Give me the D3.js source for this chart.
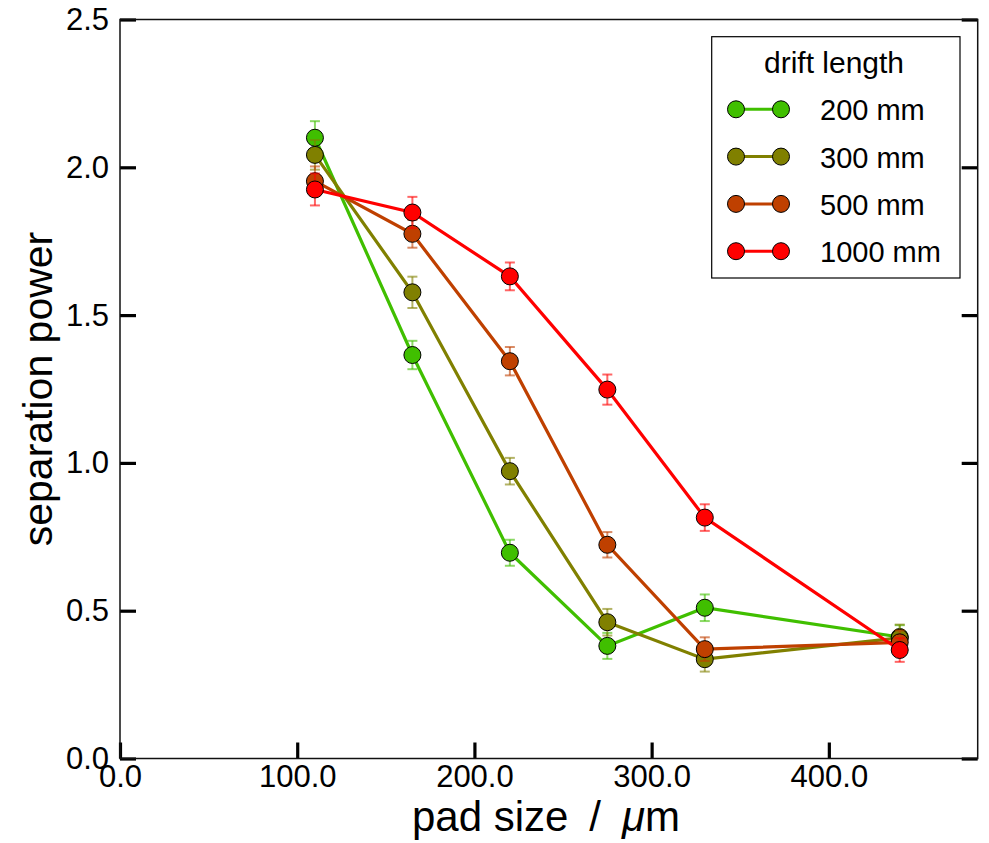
<!DOCTYPE html>
<html>
<head>
<meta charset="utf-8">
<script src="https://cdn.jsdelivr.net/npm/d3@7"></script>
<style>
  html, body { margin: 0; padding: 0; background: #fff; }
  svg { display: block; font-family: "Liberation Sans", "DejaVu Sans", sans-serif; }
</style>
</head>
<body>
<svg id="chart" width="989" height="843"></svg>
<script>
// ---- data ----
const padSize = [110, 165, 220, 275, 330, 440];
const driftLengths = ["200 mm", "300 mm", "500 mm", "1000 mm"];
const sep200  = [2.100, 1.365, 0.696, 0.381, 0.510, 0.411];
const sep300  = [2.042, 1.577, 0.972, 0.461, 0.336, 0.408];
const sep500  = [1.953, 1.775, 1.344, 0.723, 0.370, 0.393];
const sep1000 = [1.925, 1.847, 1.631, 1.248, 0.815, 0.367];
const err200  = [0.056, 0.048, 0.044, 0.044, 0.045, 0.040];
const err300  = [0.050, 0.053, 0.045, 0.045, 0.042, 0.045];
const err500  = [0.050, 0.047, 0.048, 0.043, 0.040, 0.040];
const err1000 = [0.054, 0.053, 0.047, 0.051, 0.045, 0.040];
const seriesColors = ["#40bf00", "#808000", "#bf4000", "#ff0000"];
const xTicks = [0, 100, 200, 300, 400];
const yTicks = [0, 0.5, 1.0, 1.5, 2.0, 2.5];
const xLabel = "pad size\u2002/\u2002";
const yLabel = "separation power";
const legendTitle = "drift length";

const seriesValues = [sep200, sep300, sep500, sep1000];
const seriesErrors = [err200, err300, err500, err1000];
const series = driftLengths.map((name, i) => ({
  name, color: seriesColors[i],
  points: padSize.map((px, j) => ({ x: px, y: seriesValues[i][j], e: seriesErrors[i][j] }))
}));

// ---- layout ----
const pL = 120, pR = 977.7, pT = 19.5, pB = 758.5;
const svg = d3.select("#chart");
const x = d3.scaleLinear().domain([0, 484]).range([pL, pR]);
const y = d3.scaleLinear().domain([0, 2.5]).range([pB, pT]);
const tickLen = 16;

// axes
const fmt = d3.format(".1f");
const gx = svg.append("g").attr("transform", `translate(0,${pB})`)
  .call(d3.axisBottom(x).tickValues(xTicks).tickFormat(fmt).tickSize(-tickLen).tickPadding(6));
const gy = svg.append("g").attr("transform", `translate(${pL},0)`)
  .call(d3.axisLeft(y).tickValues(yTicks).tickFormat(fmt).tickSize(-tickLen).tickPadding(11));
const gr = svg.append("g").attr("transform", `translate(${pR},0)`)
  .call(d3.axisRight(y).tickValues(yTicks).tickFormat("").tickSize(-tickLen));
[gx, gy, gr].forEach(g => {
  g.select(".domain").remove();
  g.selectAll(".tick line").attr("stroke", "#000").attr("stroke-width", 3.2);
  g.selectAll(".tick text").attr("fill", "#000").style("font-size", "31px")
    .style("font-family", '"Liberation Sans", sans-serif');
});

// frame
svg.append("rect").attr("x", pL).attr("y", pT)
  .attr("width", pR - pL).attr("height", pB - pT)
  .attr("fill", "none").attr("stroke", "#111").attr("stroke-width", 1.5);

// series
const line = d3.line().x(d => x(d.x)).y(d => y(d.y));
const capW = 5;
series.forEach(s => {
  const g = svg.append("g");
  const eb = g.append("g").attr("stroke", s.color).attr("stroke-opacity", 0.6).attr("stroke-width", 2);
  s.points.forEach(p => {
    eb.append("line").attr("x1", x(p.x)).attr("x2", x(p.x)).attr("y1", y(p.y - p.e)).attr("y2", y(p.y + p.e));
    eb.append("line").attr("x1", x(p.x) - capW).attr("x2", x(p.x) + capW).attr("y1", y(p.y - p.e)).attr("y2", y(p.y - p.e));
    eb.append("line").attr("x1", x(p.x) - capW).attr("x2", x(p.x) + capW).attr("y1", y(p.y + p.e)).attr("y2", y(p.y + p.e));
  });
  g.append("path").datum(s.points).attr("d", line)
    .attr("fill", "none").attr("stroke", s.color).attr("stroke-width", 3.2);
  g.selectAll("circle").data(s.points).join("circle")
    .attr("cx", d => x(d.x)).attr("cy", d => y(d.y)).attr("r", 8.5)
    .attr("fill", s.color).attr("stroke", "#000").attr("stroke-width", 1);
});

// axis labels
const xl = svg.append("text").attr("x", 546).attr("y", 831)
  .attr("text-anchor", "middle").style("font-size", "42px").attr("fill", "#000");
xl.append("tspan").text(xLabel);
xl.append("tspan").style("font-style", "italic").text("\u03bc");
xl.append("tspan").text("m");

svg.append("text")
  .attr("transform", `translate(52,${(pT + pB) / 2}) rotate(-90)`)
  .attr("text-anchor", "middle").style("font-size", "41px").attr("fill", "#000")
  .text(yLabel);

// legend
const lg = svg.append("g");
lg.append("rect").attr("x", 711.7).attr("y", 36.7).attr("width", 248.3).attr("height", 241.3)
  .attr("fill", "#fff").attr("stroke", "#000").attr("stroke-width", 1.2);
lg.append("text").attr("x", 834).attr("y", 73).attr("text-anchor", "middle")
  .style("font-size", "30px").attr("fill", "#000").text(legendTitle);
series.forEach((s, i) => {
  const cy = 109.3 + i * 47.3;
  lg.append("line").attr("x1", 736).attr("x2", 781).attr("y1", cy).attr("y2", cy)
    .attr("stroke", s.color).attr("stroke-width", 3);
  [736, 781].forEach(cx => lg.append("circle").attr("cx", cx).attr("cy", cy).attr("r", 8.5)
    .attr("fill", s.color).attr("stroke", "#000").attr("stroke-width", 1));
  lg.append("text").attr("x", 820).attr("y", cy + 11).style("font-size", "29px")
    .attr("fill", "#000").text(s.name);
});
</script>
</body>
</html>
